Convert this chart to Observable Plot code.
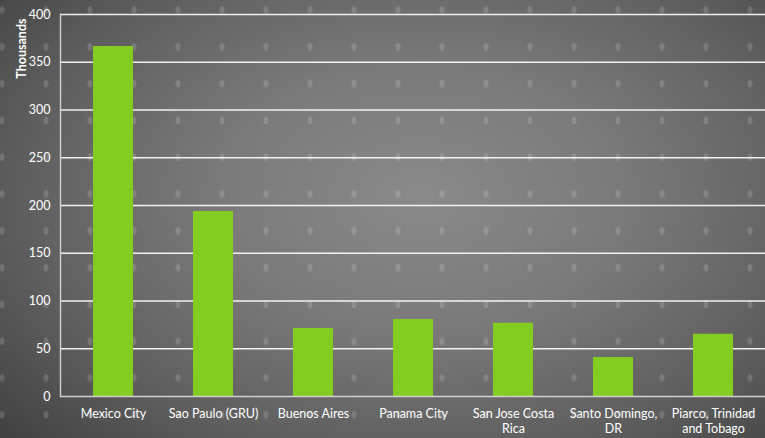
<!DOCTYPE html>
<html>
<head>
<meta charset="utf-8">
<script src="https://cdn.jsdelivr.net/npm/d3@7"></script>
<script src="https://cdn.jsdelivr.net/npm/@observablehq/plot@0.6"></script>
<style>
  html, body { margin: 0; padding: 0; }
  #wrap {
    width: 765px; height: 438px; position: relative; overflow: hidden;
    background:
      radial-gradient(ellipse 3px 4.5px at 50% 50%, rgba(255,255,255,0.15) 70%, rgba(255,255,255,0) 100%) -20px -8.4px / 44px 36.8px repeat,
      radial-gradient(ellipse 75% 85% at 55% 45%, #8a8a8a 0%, #7a7a7a 35%, #5e5e5e 70%, #3e3e3e 100%);
    font-family: Lato, "Open Sans", sans-serif;
  }
  svg { background: transparent !important; }
</style>
</head>
<body>
<div id="wrap"></div>
<script>
const cities = ["Mexico City", "Sao Paulo (GRU)", "Buenos Aires", "Panama City", "San Jose Costa\nRica", "Santo Domingo,\nDR", "Piarco, Trinidad\nand Tobago"];
const values = [366.5, 193.7, 71.2, 80.6, 76.7, 40.8, 65.2];
const yTicks = [0, 50, 100, 150, 200, 250, 300, 350, 400];
const yTitle = "Thousands";

const data = cities.map((c, i) => ({city: c, value: values[i]}));

const chart = Plot.plot({
  width: 765,
  height: 438,
  marginLeft: 60,
  marginRight: 0,
  marginTop: 14,
  marginBottom: 42,
  style: {background: "transparent", color: "white", fontFamily: "Lato, 'Open Sans', sans-serif", fontSize: "12px"},
  x: {domain: cities, paddingInner: 0.6, paddingOuter: 0.3, align: 0.5},
  y: {domain: [0, 400]},
  marks: [
    Plot.ruleY(yTicks.filter(d => d > 0), {stroke: "white", strokeWidth: 1.4, strokeOpacity: 0.9}),
    Plot.barY(data, {x: "city", y: "value", fill: "#83cc22"}),
    Plot.ruleY([0], {stroke: "#d0d0d0", strokeWidth: 1.4}),
    Plot.frame({anchor: "left", stroke: "#d0d0d0", strokeWidth: 1.4}),
    Plot.axisY({ticks: yTicks, tickSize: 0, tickPadding: 10, label: null, fill: "white", fontSize: 12.5}),
    Plot.axisX({tickSize: 0, tickPadding: 10, label: null, fill: "white", fontSize: 12.5, lineHeight: 1.25}),
    Plot.text([yTitle], {frameAnchor: "top-left", rotate: -90, textAnchor: "end", dx: -43, dy: 4, fill: "white", fontWeight: "bold", fontSize: 12.5})
  ]
});
document.getElementById("wrap").appendChild(chart);
</script>
</body>
</html>
